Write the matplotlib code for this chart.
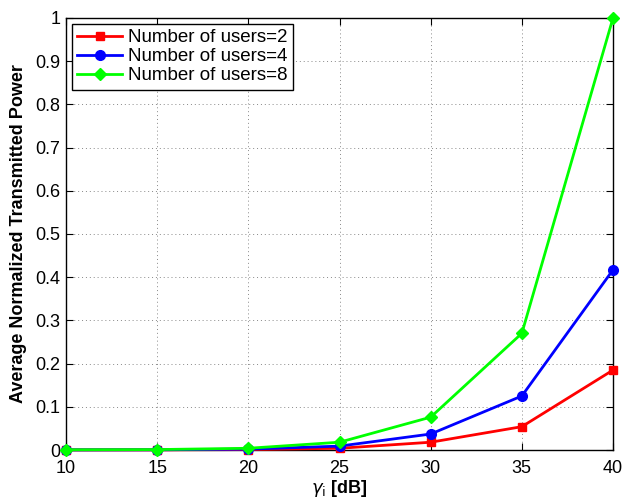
import numpy as np
import matplotlib.pyplot as plt

plt.rcParams['font.family'] = ['Liberation Sans', 'DejaVu Sans']

gamma_db = [10, 15, 20, 25, 30, 35, 40]
users2 = [0.0002, 0.0003, 0.001, 0.004, 0.018, 0.054, 0.185]
users4 = [0.0003, 0.0005, 0.002, 0.009, 0.037, 0.125, 0.417]
users8 = [0.0005, 0.001, 0.004, 0.018, 0.076, 0.270, 1.0]

fig = plt.figure(figsize=(6.26, 4.98), dpi=100)
ax = fig.add_axes([66/626, 48/498, (613-66)/626, (450-18)/498])

ax.plot(gamma_db, users2, color='#ff0000', marker='s', markersize=6, lw=2,
        clip_on=False, zorder=3, label='Number of users=2')
ax.plot(gamma_db, users4, color='#0000ff', marker='o', markersize=7, lw=2,
        clip_on=False, zorder=4, label='Number of users=4')
ax.plot(gamma_db, users8, color='#00ff00', marker='D', markersize=6, lw=2,
        clip_on=False, zorder=5, label='Number of users=8')

ax.set_xlim(10, 40)
ax.set_ylim(0, 1)
ax.set_xticks(np.arange(10, 41, 5))
ax.set_yticks(np.arange(0, 1.01, 0.1))
ax.set_yticklabels(['0', '0.1', '0.2', '0.3', '0.4', '0.5', '0.6', '0.7', '0.8', '0.9', '1'])
ax.tick_params(direction='in', top=True, right=True, labelsize=13, length=5)
ax.tick_params(axis='x', pad=7)
ax.tick_params(axis='y', pad=4)
ax.grid(True, linestyle=(0, (1, 3)), color='#888888', linewidth=0.7)
for s in ax.spines.values():
    s.set_linewidth(1.0)

ax.set_xlabel(r'$\gamma_\mathrm{i}$ [dB]', fontsize=13, fontweight='bold', labelpad=1)
ax.set_ylabel('Average Normalized Transmitted Power', fontsize=13, fontweight='bold', labelpad=6)

leg = ax.legend(loc='upper left', fontsize=13.5, handlelength=2.4, borderpad=0.3,
                labelspacing=0.1, handletextpad=0.3, fancybox=False, framealpha=1,
                edgecolor='black', borderaxespad=0.3)
leg.get_frame().set_linewidth(1.0)

fig.savefig('out.png', dpi=100)
